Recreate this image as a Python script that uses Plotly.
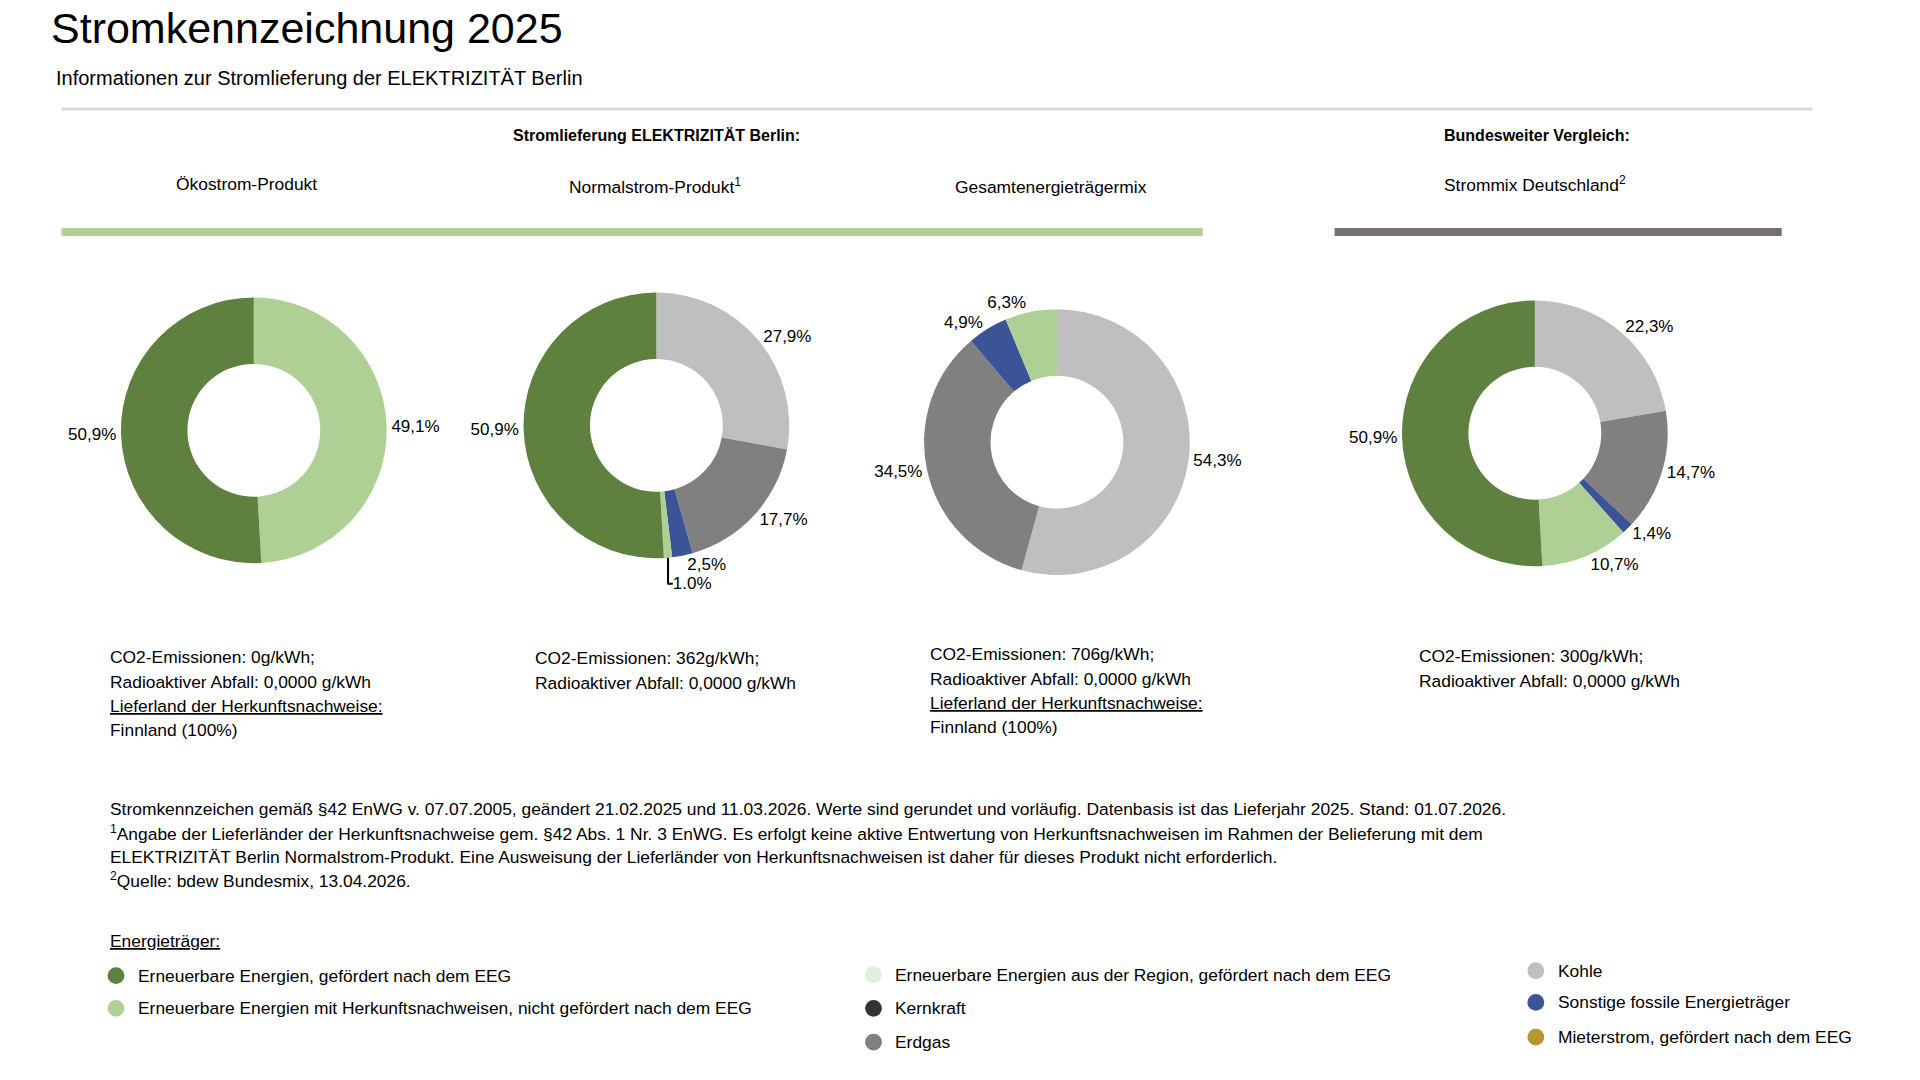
import plotly.graph_objects as go

W, H = 1920, 1080
S, OFF = 0.9915, 8
def X(px): return (px * S - OFF) / W
def Y(py): return 1 - (py * S - OFF) / H

C_EEG = "#5E813F"; C_HKN = "#AED094"; C_KOHLE = "#BFBFBF"; C_GAS = "#808080"
C_SONST = "#3A5497"; C_KERN = "#333333"; C_REG = "#E2EFDA"; C_MIET = "#B8962E"

# data
oeko_labels = ["EE mit HKN", "EE EEG"]
oeko_values = [49.1, 50.9]
oeko_colors = [C_HKN, C_EEG]

normal_labels = ["Kohle", "Erdgas", "Sonstige fossile", "EE mit HKN", "EE EEG"]
normal_values = [27.9, 17.7, 2.5, 1.0, 50.9]
normal_text = ["27,9%", "17,7%", "2,5%", "1.0%", "50,9%"]
normal_colors = [C_KOHLE, C_GAS, C_SONST, C_HKN, C_EEG]

gesamt_labels = ["Kohle", "Erdgas", "Sonstige fossile", "EE mit HKN"]
gesamt_values = [54.3, 34.5, 4.9, 6.3]
gesamt_colors = [C_KOHLE, C_GAS, C_SONST, C_HKN]

de_labels = ["Kohle", "Erdgas", "Sonstige fossile", "EE mit HKN", "EE EEG"]
de_values = [22.3, 14.7, 1.4, 10.7, 50.9]
de_colors = [C_KOHLE, C_GAS, C_SONST, C_HKN, C_EEG]

def fmt(v): return f"{v:.1f}".replace(".", ",") + "%"

FONT = "Liberation Sans, Arial, sans-serif"
fig = go.Figure()

R = 134
def pie(cx, cy, labels, values, colors, text=None):
    fig.add_trace(go.Pie(
        labels=labels, values=values, sort=False, direction="clockwise", rotation=0,
        hole=0.5, marker=dict(colors=colors, line=dict(width=0)),
        text=text or [fmt(v) for v in values], textinfo="text", textposition="outside",
        textfont=dict(size=17, color="#000", family=FONT),
        domain=dict(x=[X(cx - R), X(cx + R)], y=[Y(cy + R), Y(cy - R)]),
        showlegend=False, hoverinfo="label+text"))

pie(256, 434, oeko_labels, oeko_values, oeko_colors)
pie(662, 429, normal_labels, normal_values, normal_colors, normal_text)
pie(1066, 446, gesamt_labels, gesamt_values, gesamt_colors)
pie(1548, 437, de_labels, de_values, de_colors)

ann = []
def txt(x, y, s, size=17.4, anchor="left", **kw):
    ann.append(dict(x=X(x), y=Y(y), xref="paper", yref="paper", text=s, showarrow=False,
                    xanchor=anchor, yanchor="middle", align="left",
                    font=dict(size=size, color="#000", family=FONT), **kw))

txt(49, 28, "Stromkennzeichnung 2025", size=43)
txt(54, 79, "Informationen zur Stromlieferung der ELEKTRIZITÄT Berlin", size=20)
txt(662, 137, "<b>Stromlieferung ELEKTRIZITÄT Berlin:</b>", size=16, anchor="center")
txt(1550, 137, "<b>Bundesweiter Vergleich:</b>", size=16, anchor="center")
txt(249, 186, "Ökostrom-Produkt", anchor="center")
txt(661, 188, "Normalstrom-Produkt<sup>1</sup>", anchor="center")
txt(1060, 189, "Gesamtenergieträgermix", anchor="center")
txt(1548, 186, "Strommix Deutschland<sup>2</sup>", anchor="center")

def block(x, y, lines):
    for i, l in enumerate(lines):
        txt(x, y + i * 24.5, l)
block(109, 663, ["CO2-Emissionen: 0g/kWh;", "Radioaktiver Abfall: 0,0000 g/kWh",
                 "<u>Lieferland der Herkunftsnachweise:</u>", "Finnland (100%)"])
block(538, 664, ["CO2-Emissionen: 362g/kWh;", "Radioaktiver Abfall: 0,0000 g/kWh"])
block(936, 660, ["CO2-Emissionen: 706g/kWh;", "Radioaktiver Abfall: 0,0000 g/kWh",
                 "<u>Lieferland der Herkunftsnachweise:</u>", "Finnland (100%)"])
block(1429, 662, ["CO2-Emissionen: 300g/kWh;", "Radioaktiver Abfall: 0,0000 g/kWh"])

foot = ["Stromkennzeichen gemäß §42 EnWG v. 07.07.2005, geändert 21.02.2025 und 11.03.2026. Werte sind gerundet und vorläufig. Datenbasis ist das Lieferjahr 2025. Stand: 01.07.2026.",
        "<sup>1</sup>Angabe der Lieferländer der Herkunftsnachweise gem. §42 Abs. 1 Nr. 3 EnWG. Es erfolgt keine aktive Entwertung von Herkunftsnachweisen im Rahmen der Belieferung mit dem",
        "ELEKTRIZITÄT Berlin Normalstrom-Produkt. Eine Ausweisung der Lieferländer von Herkunftsnachweisen ist daher für dieses Produkt nicht erforderlich.",
        "<sup>2</sup>Quelle: bdew Bundesmix, 13.04.2026."]
for i, l in enumerate(foot):
    txt(109, 816 + i * 24, l)

txt(109, 949, "<u>Energieträger:</u>")
legend = [(117, 984, C_EEG, "Erneuerbare Energien, gefördert nach dem EEG"),
          (117, 1017, C_HKN, "Erneuerbare Energien mit Herkunftsnachweisen, nicht gefördert nach dem EEG"),
          (881, 983, C_REG, "Erneuerbare Energien aus der Region, gefördert nach dem EEG"),
          (881, 1017, C_KERN, "Kernkraft"),
          (881, 1051, C_GAS, "Erdgas"),
          (1549, 979, C_KOHLE, "Kohle"),
          (1549, 1011, C_SONST, "Sonstige fossile Energieträger"),
          (1549, 1046, C_MIET, "Mieterstrom, gefördert nach dem EEG")]
shapes = []
for x, y, c, s in legend:
    shapes.append(dict(type="circle", xref="paper", yref="paper", x0=X(x - 8.5), x1=X(x + 8.5),
                       y0=Y(y + 8.5), y1=Y(y - 8.5), fillcolor=c, line=dict(width=0)))
    txt(x + 20, y, s)

shapes.append(dict(type="line", xref="paper", yref="paper", x0=X(62), x1=X(1828), y0=Y(110), y1=Y(110),
                   line=dict(color="#D9D9D9", width=3)))
shapes.append(dict(type="line", xref="paper", yref="paper", x0=X(62), x1=X(1213), y0=Y(234), y1=Y(234),
                   line=dict(color=C_HKN, width=8)))
shapes.append(dict(type="line", xref="paper", yref="paper", x0=X(1346), x1=X(1797), y0=Y(234), y1=Y(234),
                   line=dict(color="#767171", width=8)))

fig.update_layout(width=W, height=H, margin=dict(l=0, r=0, t=0, b=0), paper_bgcolor="white",
                  plot_bgcolor="white", annotations=ann, shapes=shapes, font=dict(family=FONT))
fig.write_html("out.html")
